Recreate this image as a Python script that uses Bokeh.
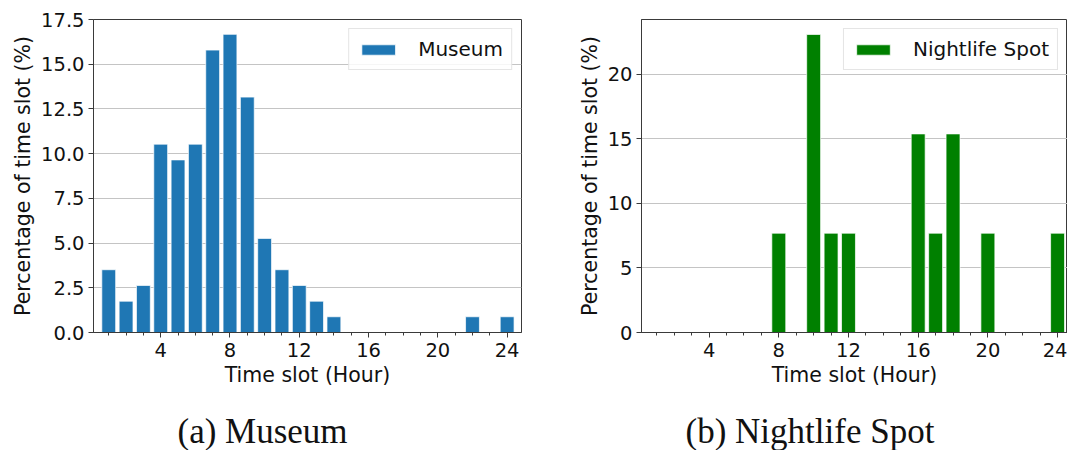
from bokeh.plotting import figure
from bokeh.models import Range1d, FixedTicker, PrintfTickFormatter, Title
from bokeh.layouts import row
from bokeh.embed import file_html
from bokeh.resources import INLINE

# ---- data ----
hours = list(range(1, 25))
museum = [3.51, 1.75, 2.63, 10.53, 9.65, 10.53, 15.79, 16.67, 13.16, 5.26, 3.51, 2.63,
          1.75, 0.88, 0, 0, 0, 0, 0, 0, 0, 0.88, 0, 0.88]
nightlife = [0, 0, 0, 0, 0, 0, 0, 7.69, 0, 23.08, 7.69, 7.69,
             0, 0, 0, 15.38, 7.69, 15.38, 0, 7.69, 0, 0, 0, 7.69]
x_ticks = [4, 8, 12, 16, 20, 24]
museum_y_ticks = [0, 2.5, 5, 7.5, 10, 12.5, 15, 17.5]
nightlife_y_ticks = [0, 5, 10, 15, 20]
x_label = "Time slot (Hour)"
y_label = "Percentage of time slot (%)"
captions = ["(a) Museum", "(b) Nightlife Spot"]
series_names = ["Museum", "Nightlife Spot"]
colors = ["#1f77b4", "#008000"]

SPINE = "#3a3a3a"
FONT = "DejaVu Sans"


def style(p, yticks, yfmt):
    p.outline_line_color = SPINE
    p.outline_line_width = 1
    p.background_fill_color = "white"
    p.border_fill_color = "white"
    p.xgrid.visible = False
    p.ygrid.grid_line_color = "#c4c4c4"
    p.ygrid.grid_line_width = 1
    p.xaxis.ticker = FixedTicker(ticks=x_ticks, minor_ticks=hours)
    p.yaxis.ticker = FixedTicker(ticks=yticks)
    p.yaxis.formatter = PrintfTickFormatter(format=yfmt)
    for ax in (p.xaxis, p.yaxis):
        ax.axis_line_color = SPINE
        ax.major_tick_line_color = SPINE
        ax.minor_tick_line_color = SPINE
        ax.major_tick_in = 0
        ax.major_tick_out = 5
        ax.minor_tick_in = 0
        ax.minor_tick_out = 3
        ax.major_label_text_font = FONT
        ax.major_label_text_font_size = "19.5px"
        ax.major_label_text_color = "#111111"
        ax.axis_label_text_font = FONT
        ax.axis_label_text_font_size = "20.5px"
        ax.axis_label_text_font_style = "normal"
        ax.axis_label_text_color = "#111111"
        ax.major_label_standoff = 4
        ax.axis_label_standoff = 3
    p.xaxis.major_label_standoff = 5
    p.yaxis.minor_tick_out = 0
    p.xaxis.axis_label = x_label
    p.yaxis.axis_label = y_label


def legend_style(p):
    lg = p.legend[0]
    lg.location = "top_right"
    lg.margin = 9
    lg.padding = 8
    lg.spacing = 0
    lg.glyph_width = 42
    lg.glyph_height = 13
    lg.label_standoff = 19
    lg.label_height = 20
    lg.label_text_font = FONT
    lg.label_text_font_size = "20px"
    lg.label_text_color = "#111111"
    lg.border_line_color = "#cccccc"
    lg.border_line_width = 1
    lg.background_fill_alpha = 0.85


def caption(p, text, offset):
    p.add_layout(Title(text=text, align="left", offset=offset, standoff=40,
                       text_font="Liberation Serif", text_font_size="35px",
                       text_font_style="normal", text_color="#111111"), "below")


# ---- left panel ----
p1 = figure(width=540, height=450, frame_width=428, frame_height=313,
            min_border_left=93, min_border_right=19, min_border_top=19, min_border_bottom=118,
            x_range=Range1d(0.12, 24.83), y_range=Range1d(0, 17.5),
            output_backend="svg", toolbar_location=None)
p1.vbar(x=hours, top=museum, width=0.8, fill_color=colors[0], line_color="white",
        line_width=0.7, legend_label=series_names[0])
style(p1, museum_y_ticks, "%.1f")
legend_style(p1)
caption(p1, captions[0], 84)

# ---- right panel ----
p2 = figure(width=527, height=450, frame_width=426, frame_height=313,
            min_border_left=101, min_border_right=0, min_border_top=19, min_border_bottom=118,
            x_range=Range1d(0.12, 24.57), y_range=Range1d(0, 24.24),
            output_backend="svg", toolbar_location=None)
p2.vbar(x=hours, top=nightlife, width=0.8, fill_color=colors[1], line_color="white",
        line_width=0.7, legend_label=series_names[1])
style(p2, nightlife_y_ticks, "%d")
legend_style(p2)
caption(p2, captions[1], 44)

layout = row(p1, p2, spacing=0)
open("out.html", "w").write(file_html(layout, INLINE))
